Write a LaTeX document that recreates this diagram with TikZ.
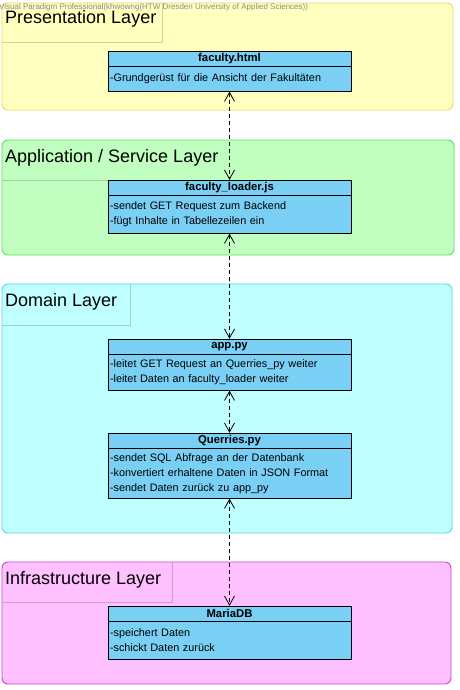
\documentclass[tikz,border=0pt]{standalone}
\usepackage{fontspec}
\setmainfont{Liberation Sans}
\usetikzlibrary{positioning,arrows.meta}
\definecolor{classblue}{RGB}{122,207,245}
\definecolor{presfill}{RGB}{255,255,192}
\definecolor{presline}{RGB}{240,218,90}
\definecolor{appfill}{RGB}{192,255,192}
\definecolor{appline}{RGB}{90,222,90}
\definecolor{domfill}{RGB}{192,255,255}
\definecolor{domline}{RGB}{80,220,224}
\definecolor{infrafill}{RGB}{255,192,255}
\definecolor{infraline}{RGB}{204,64,204}

\begin{document}
\begin{tikzpicture}[x=1pt,y=-1pt,
  head/.style={draw=black,fill=classblue,minimum width=243pt,minimum height=15pt,
    inner sep=0pt,font=\fontsize{11.3}{12}\selectfont\bfseries},
  body/.style={draw=black,fill=classblue,text width=239pt,inner xsep=2pt,inner ysep=0pt,
    align=left,font=\fontsize{10.85}{15}\selectfont},
  dep/.style={line width=0.8pt,dash pattern=on 4pt off 3pt,
    {Straight Barb[length=9pt,width=10pt,line width=0.8pt]}-{Straight Barb[length=9pt,width=10pt,line width=0.8pt]}},
  layer/.style={line width=0.9pt,rounded corners=6pt},
  layertitle/.style={anchor=base west,inner sep=0pt,font=\fontsize{18}{20}\selectfont}]
\useasboundingbox (0,0) rectangle (460,690);

% layers
\draw[layer,draw=presline,fill=presfill] (2,3) rectangle (453,110);
\draw[presfill!82!black] (162,3) -- (162,42) -- (2,42);
\node[layertitle] (prestitle) at (5,24) {Presentation Layer};

\draw[layer,draw=appline,fill=appfill] (2,140) rectangle (454,255);
\draw[appfill!82!black] (2,180) -- (229,180);
\node[layertitle] (apptitle) at (5,162) {Application / Service Layer};

\draw[layer,draw=domline,fill=domfill] (2,284) rectangle (452,533);
\draw[domfill!82!black] (130,284) -- (130,325) -- (2,325);
\node[layertitle] (domtitle) at (5,306) {Domain Layer};

\draw[layer,draw=infraline,fill=infrafill] (2,562) rectangle (451,684);
\draw[infrafill!82!black] (172,562) -- (172,602) -- (2,602);
\node[layertitle] (infratitle) at (5,584) {Infrastructure Layer};

\node[anchor=west,inner sep=0pt,text=black!45,font=\fontsize{8}{9}\selectfont] (mark) at (-1,7)
  {Visual Paradigm Professional(khwowng(HTW Dresden University of Applied Sciences))};

% classes
\node[head] (html) at (229.5,58.5) {faculty.html};
\node[body,minimum height=25pt,below=0pt of html] (htmlb) {-Grundgerüst für die Ansicht der Fakultäten};

\node[head] (loader) at (229.5,187.5) {faculty\_loader.js};
\node[body,minimum height=38pt,below=0pt of loader] (loaderb) {-sendet GET Request zum Backend\\-fügt Inhalte in Tabellezeilen ein};

\node[head] (app) at (229.5,346.5) {app.py};
\node[body,minimum height=36pt,below=0pt of app] (appb) {-leitet GET Request an Querries\_py weiter\\-leitet Daten an faculty\_loader weiter};

\node[head] (querries) at (229.5,440.5) {Querries.py};
\node[body,minimum height=50pt,below=0pt of querries] (querriesb) {-sendet SQL Abfrage an der Datenbank\\-konvertiert erhaltene Daten in JSON Format\\-sendet Daten zurück zu app\_py};

\node[head] (maria) at (229.5,613.5) {MariaDB};
\node[body,minimum height=38pt,below=0pt of maria] (mariab) {-speichert Daten\\-schickt Daten zurück};

% dependencies
\draw[dep] (htmlb.south) -- (loader.north);
\draw[dep] (loaderb.south) -- (app.north);
\draw[dep] (appb.south) -- (querries.north);
\draw[dep] (querriesb.south) -- (maria.north);
\end{tikzpicture}
\end{document}
